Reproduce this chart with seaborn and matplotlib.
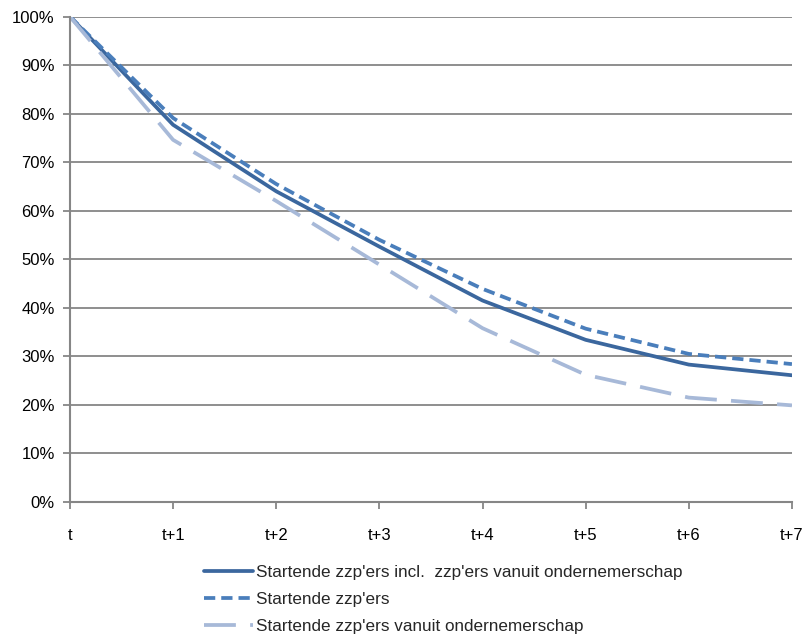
import pandas as pd
import numpy as np
import seaborn as sns
import matplotlib.pyplot as plt

# data
periods = ['t', 't+1', 't+2', 't+3', 't+4', 't+5', 't+6', 't+7']
incl_ondernemerschap = [100, 77.7, 64.0, 52.6, 41.5, 33.4, 28.3, 26.1]
startende = [100, 79.1, 65.5, 54.0, 43.9, 35.7, 30.5, 28.4]
vanuit_ondernemerschap = [100, 74.6, 62.0, 48.9, 35.8, 26.2, 21.5, 19.9]

series_names = ["Startende zzp'ers incl.  zzp'ers vanuit ondernemerschap",
                "Startende zzp'ers",
                "Startende zzp'ers vanuit ondernemerschap"]

df = pd.DataFrame({
    'period': list(range(len(periods))) * 3,
    'value': incl_ondernemerschap + startende + vanuit_ondernemerschap,
    'serie': np.repeat(series_names, len(periods)),
})

sns.set_theme(style='white')
plt.rcParams['font.family'] = ['Liberation Sans Narrow', 'Liberation Sans', 'DejaVu Sans']

colors = {series_names[0]: '#3B679E', series_names[1]: '#4A7EBB', series_names[2]: '#A7B9D8'}
dashes = {series_names[0]: '', series_names[1]: (3, 1.6), series_names[2]: (8.5, 3.8)}
lw = 2.7

fig, ax = plt.subplots(figsize=(8.04, 6.37), dpi=100)
fig.subplots_adjust(left=0.087, right=0.985, top=0.974, bottom=0.212)

sns.lineplot(data=df, x='period', y='value', hue='serie', style='serie',
             palette=colors, dashes=dashes, linewidth=lw, ax=ax, legend=False)

ax.set_xlim(0, 7)
ax.set_ylim(0, 100)
ax.set_yticks(range(0, 101, 10))
ax.set_yticklabels([f'{v}%' for v in range(0, 101, 10)])
ax.set_xticks(range(len(periods)))
ax.set_xticklabels(periods)
ax.set_xlabel('')
ax.set_ylabel('')
ax.yaxis.grid(True, color='#868686', linewidth=1.3)
ax.set_axisbelow(True)
for s in ['top', 'right']:
    ax.spines[s].set_visible(False)
for s in ['left', 'bottom']:
    ax.spines[s].set_color('#868686')
    ax.spines[s].set_linewidth(1.5)
ax.tick_params(axis='both', labelsize=12, colors='black', length=5, width=1.3,
               color='#868686', direction='out', left=True, bottom=True)
ax.tick_params(axis='x', pad=14)
ax.tick_params(axis='y', pad=6)

handles = [plt.Line2D([], [], color=colors[n], linewidth=lw,
                      dashes=dashes[n] if dashes[n] else (None, None)) for n in series_names]
fig.legend(handles, series_names, loc='upper left', bbox_to_anchor=(0.243, 0.127),
           frameon=False, fontsize=12.3, handlelength=2.9, handletextpad=0.15,
           labelspacing=0.72, borderpad=0)

plt.savefig('out.png', dpi=100)
